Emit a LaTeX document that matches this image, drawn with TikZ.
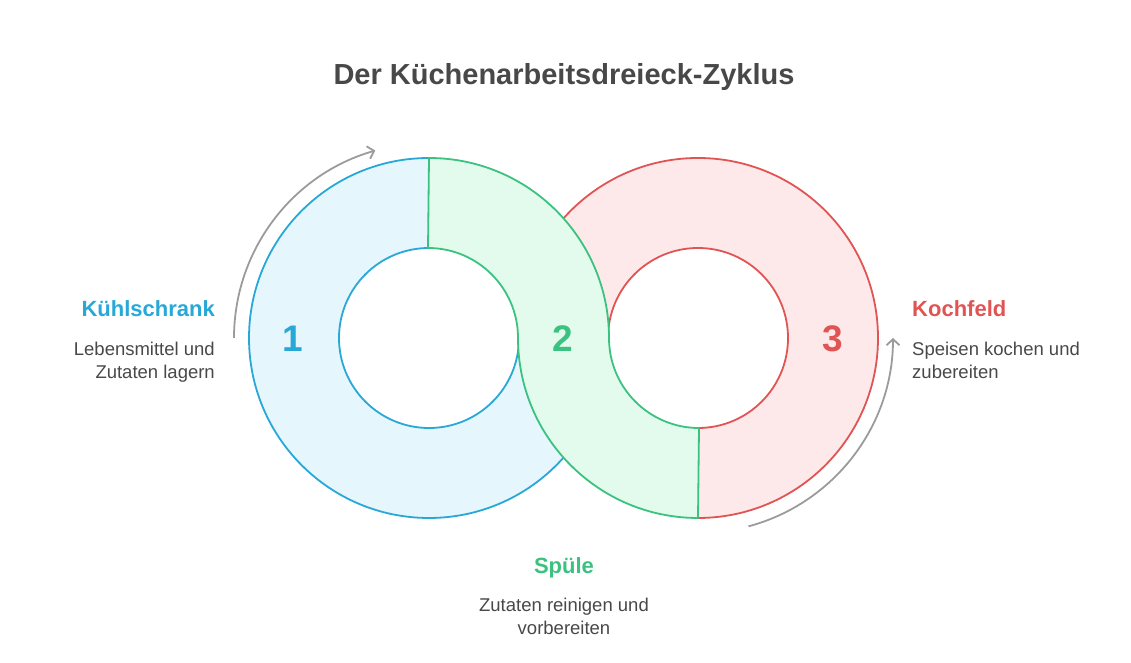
\documentclass[tikz,border=0pt]{standalone}
\usepackage{fontspec}
\setmainfont{Liberation Sans}
\usepackage{tikz}
\usetikzlibrary{arrows.meta, positioning}
\definecolor{kuehlblau}{RGB}{40,168,214}
\definecolor{kuehlfill}{RGB}{229,246,252}
\definecolor{spuelgruen}{RGB}{60,194,128}
\definecolor{spuelfill}{RGB}{227,251,236}
\definecolor{kochrot}{RGB}{224,84,84}
\definecolor{kochfill}{RGB}{253,233,233}
\definecolor{textgrau}{RGB}{72,72,72}
\definecolor{pfeilgrau}{RGB}{155,155,155}
\tikzset{
  segment/.style={line width=1.8pt, line join=round},
  zyklus/.style={pfeilgrau, line width=1.8pt, -{Straight Barb[length=6pt,width=13pt,line width=1.8pt]}},
  titel/.style={textgrau, font=\bfseries\fontsize{29}{34}\selectfont},
  station/.style={font=\bfseries\fontsize{22}{26}\selectfont, inner sep=0pt},
  nummer/.style={font=\bfseries\fontsize{37}{40}\selectfont, inner sep=0pt},
  beschreibung/.style={textgrau, font=\fontsize{18.5}{23}\selectfont, inner sep=0pt}
}

\begin{document}
\begin{tikzpicture}[x=1pt, y=1pt]
			\useasboundingbox (0,0) rectangle (1131,663);
			\coordinate (L) at (429,325);
			\coordinate (R) at (698,325);
			% Kochfeld (rot)
			\draw [segment, kochrot, fill=kochfill] ([shift={(180:180)}]R) arc[start angle=180, end angle=-90, radius=180] -- ([shift={(-90:90)}]R) arc[start angle=-90, end angle=180, radius=90] -- cycle;
			% Kühlschrank (blau)
			\draw [segment, kuehlblau, fill=kuehlfill] ([shift={(90:180)}]L) arc[start angle=90, end angle=360, radius=180] -- ([shift={(0:90)}]L) arc[start angle=360, end angle=90, radius=90] -- cycle;
			% Spüle (grün)
			\draw [segment, spuelgruen, fill=spuelfill] ([shift={(90:180)}]L) arc[start angle=90, end angle=0, radius=180] arc[start angle=180, end angle=270, radius=90] -- ([shift={(-90:180)}]R) arc[start angle=270, end angle=180, radius=180] arc[start angle=0, end angle=90, radius=90] -- cycle;
			% Pfeile
			\coordinate (pfeilL) at ([shift={(180:195)}]L);
			\coordinate (pfeilR) at ([shift={(-75:195)}]R);
			\draw [zyklus] (pfeilL) arc[start angle=180, end angle=106, radius=195];
			\draw [zyklus] (pfeilR) arc[start angle=-75, end angle=0, radius=195];
			% Nummern
			\node [nummer, kuehlblau] (eins) at (293,324) {1};
			\node [nummer, spuelgruen] (zwei) at (563,324) {2};
			\node [nummer, kochrot] (drei) at (833,324) {3};
			% Texte
			\node [titel] (titel) at (564,586) {Der Küchenarbeitsdreieck-Zyklus};
			\node [station, kuehlblau, anchor=east] (kuehl) at (215,354) {Kühlschrank};
			\node [beschreibung, align=right, below=25pt of kuehl.south east, anchor=north east] (kuehltext) {Lebensmittel und\\Zutaten lagern};
			\node [station, kochrot, anchor=west] (koch) at (912,354) {Kochfeld};
			\node [beschreibung, align=left, below=25pt of koch.south west, anchor=north west] (kochtext) {Speisen kochen und\\zubereiten};
			\node [station, spuelgruen] (spuel) at (564,95) {Spüle};
			\node [beschreibung, align=center, below=19pt of spuel] (spueltext) {Zutaten reinigen und\\vorbereiten};
		\end{tikzpicture}
\end{document}
